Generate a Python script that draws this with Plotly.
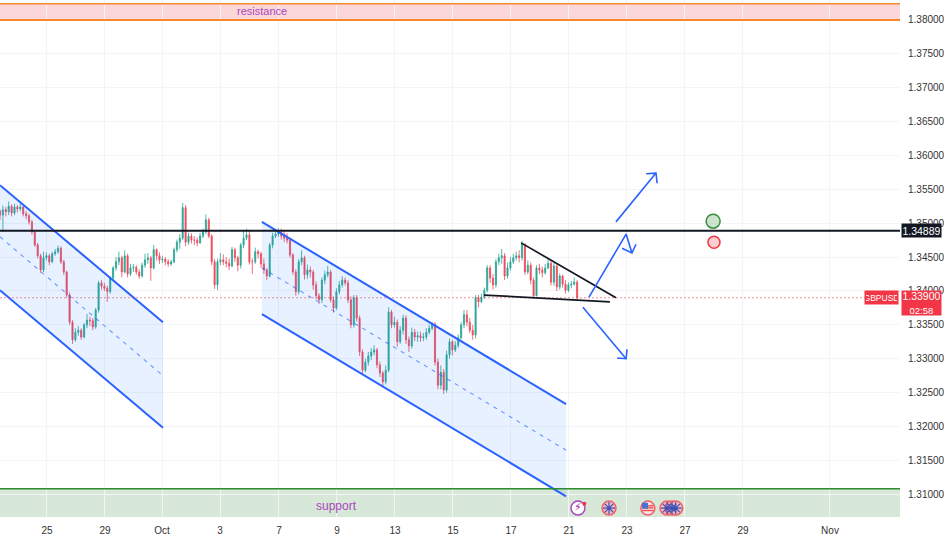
import plotly.graph_objects as go

# ---- candle data (one bar = a tenth of a session on the time axis) ----
first_open = 1.3518
closes = [
 1.3512,1.3520,1.3517,1.3525,1.3515,1.3524,1.3521,1.3524,1.3514,1.3511,
 1.3502,1.3487,1.3468,1.3452,1.3431,1.3449,1.3452,1.3443,1.3455,1.3458,
 1.3463,1.3443,1.3428,1.3394,1.3354,1.3328,1.3339,1.3342,1.3332,1.3350,
 1.3357,1.3356,1.3347,1.3372,1.3412,1.3407,1.3404,1.3399,1.3419,1.3434,
 1.3443,1.3449,1.3428,1.3452,1.3425,1.3434,1.3435,1.3428,1.3422,1.3438,
 1.3446,1.3449,1.3434,1.3461,1.3452,1.3446,1.3447,1.3443,1.3440,1.3443,
 1.3461,1.3472,1.3478,1.3523,1.3472,1.3481,1.3475,1.3475,1.3471,1.3481,
 1.3487,1.3505,1.3481,1.3443,1.3409,1.3443,1.3446,1.3443,1.3441,1.3437,
 1.3461,1.3449,1.3438,1.3468,1.3478,1.3483,1.3443,1.3443,1.3458,1.3455,
 1.3440,1.3431,1.3422,1.3468,1.3481,1.3484,1.3486,1.3481,1.3478,1.3475,
 1.3453,1.3428,1.3399,1.3443,1.3449,1.3424,1.3431,1.3428,1.3409,1.3393,
 1.3387,1.3416,1.3424,1.3428,1.3387,1.3375,1.3399,1.3409,1.3416,1.3412,
 1.3387,1.3350,1.3390,1.3360,1.3310,1.3283,1.3295,1.3304,1.3310,1.3313,
 1.3291,1.3279,1.3266,1.3283,1.3369,1.3350,1.3354,1.3325,1.3342,1.3360,
 1.3328,1.3319,1.3339,1.3332,1.3334,1.3331,1.3332,1.3339,1.3345,1.3351,
 1.3295,1.3261,1.3280,1.3254,1.3306,1.3325,1.3313,1.3320,1.3331,1.3350,
 1.3365,1.3354,1.3342,1.3335,1.3390,1.3384,1.3391,1.3401,1.3434,1.3419,
 1.3409,1.3443,1.3449,1.3452,1.3422,1.3434,1.3443,1.3449,1.3452,1.3449,
 1.3469,1.3428,1.3438,1.3416,1.3393,1.3434,1.3431,1.3427,1.3434,1.3441,
 1.3413,1.3437,1.3406,1.3422,1.3410,1.3401,1.3409,1.3410,1.3413,1.3390,
]
highs = [
 1.3520,1.3526,1.3524,1.3532,1.3528,1.3529,1.3527,1.3529,1.3526,1.3518,
 1.3514,1.3505,1.3490,1.3471,1.3455,1.3458,1.3457,1.3455,1.3458,1.3462,
 1.3467,1.3466,1.3446,1.3430,1.3398,1.3357,1.3345,1.3348,1.3345,1.3353,
 1.3366,1.3362,1.3360,1.3375,1.3415,1.3416,1.3412,1.3408,1.3422,1.3437,
 1.3450,1.3458,1.3452,1.3460,1.3455,1.3440,1.3440,1.3438,1.3432,1.3442,
 1.3455,1.3456,1.3452,1.3468,1.3463,1.3457,1.3452,1.3450,1.3447,1.3446,
 1.3464,1.3476,1.3484,1.3530,1.3527,1.3486,1.3485,1.3481,1.3479,1.3486,
 1.3492,1.3513,1.3508,1.3484,1.3447,1.3448,1.3456,1.3454,1.3450,1.3448,
 1.3465,1.3464,1.3452,1.3471,1.3489,1.3492,1.3490,1.3448,1.3464,1.3461,
 1.3458,1.3448,1.3434,1.3471,1.3486,1.3490,1.3493,1.3492,1.3489,1.3485,
 1.3478,1.3456,1.3432,1.3447,1.3460,1.3452,1.3439,1.3436,1.3431,1.3414,
 1.3397,1.3420,1.3430,1.3437,1.3431,1.3392,1.3404,1.3415,1.3422,1.3420,
 1.3416,1.3392,1.3394,1.3394,1.3364,1.3314,1.3300,1.3310,1.3316,1.3320,
 1.3316,1.3296,1.3282,1.3290,1.3376,1.3372,1.3362,1.3358,1.3348,1.3365,
 1.3364,1.3333,1.3346,1.3344,1.3340,1.3340,1.3338,1.3345,1.3350,1.3354,
 1.3354,1.3300,1.3290,1.3285,1.3312,1.3330,1.3328,1.3326,1.3336,1.3354,
 1.3372,1.3372,1.3360,1.3350,1.3394,1.3394,1.3396,1.3405,1.3438,1.3438,
 1.3425,1.3447,1.3455,1.3462,1.3456,1.3442,1.3450,1.3455,1.3458,1.3460,
 1.3474,1.3470,1.3445,1.3442,1.3420,1.3438,1.3440,1.3436,1.3440,1.3447,
 1.3446,1.3442,1.3440,1.3426,1.3424,1.3416,1.3413,1.3415,1.3420,1.3416,
]
lows = [
 1.3505,1.3487,1.3510,1.3512,1.3510,1.3512,1.3516,1.3518,1.3510,1.3506,
 1.3498,1.3483,1.3465,1.3448,1.3427,1.3428,1.3445,1.3438,1.3441,1.3452,
 1.3455,1.3440,1.3424,1.3390,1.3350,1.3322,1.3325,1.3334,1.3328,1.3330,
 1.3345,1.3348,1.3342,1.3344,1.3368,1.3402,1.3400,1.3384,1.3396,1.3416,
 1.3430,1.3438,1.3420,1.3426,1.3420,1.3422,1.3428,1.3424,1.3418,1.3420,
 1.3434,1.3440,1.3415,1.3432,1.3445,1.3440,1.3441,1.3438,1.3436,1.3437,
 1.3441,1.3457,1.3462,1.3475,1.3466,1.3468,1.3470,1.3468,1.3466,1.3470,
 1.3478,1.3484,1.3478,1.3438,1.3403,1.3401,1.3438,1.3438,1.3435,1.3431,
 1.3435,1.3443,1.3429,1.3433,1.3463,1.3475,1.3439,1.3425,1.3440,1.3448,
 1.3434,1.3425,1.3416,1.3420,1.3463,1.3478,1.3480,1.3476,1.3472,1.3470,
 1.3449,1.3424,1.3393,1.3395,1.3438,1.3417,1.3418,1.3420,1.3402,1.3388,
 1.3381,1.3382,1.3410,1.3420,1.3383,1.3368,1.3372,1.3395,1.3405,1.3408,
 1.3382,1.3345,1.3346,1.3355,1.3304,1.3278,1.3280,1.3290,1.3298,1.3305,
 1.3286,1.3273,1.3258,1.3262,1.3280,1.3345,1.3346,1.3318,1.3322,1.3336,
 1.3322,1.3310,1.3315,1.3326,1.3325,1.3325,1.3326,1.3328,1.3336,1.3342,
 1.3290,1.3255,1.3255,1.3248,1.3250,1.3300,1.3305,1.3310,1.3316,1.3328,
 1.3345,1.3348,1.3338,1.3328,1.3330,1.3376,1.3382,1.3388,1.3398,1.3412,
 1.3402,1.3405,1.3438,1.3440,1.3416,1.3418,1.3430,1.3440,1.3445,1.3442,
 1.3445,1.3424,1.3425,1.3410,1.3391,1.3392,1.3425,1.3420,1.3424,1.3432,
 1.3408,1.3408,1.3400,1.3402,1.3405,1.3396,1.3398,1.3404,1.3408,1.3387,
]
opens = [first_open] + closes[:-1]
bars = list(range(len(closes)))

# ---- axes ----
x_range = [-0.0, 310.34]
y_range = [1.30664, 1.38295]
x_tick_pos = [16.2, 36.2, 55.9, 75.9, 96.2, 116.2, 136.2, 156.2, 176.2, 196.2, 216.2, 236.2, 256.2, 286.2]
x_tick_text = ["25", "29", "Oct", "3", "7", "9", "13", "15", "17", "21", "23", "27", "29", "Nov"]
y_ticks = [1.31, 1.315, 1.32, 1.325, 1.33, 1.335, 1.34, 1.345, 1.35, 1.355, 1.36, 1.365, 1.37, 1.375, 1.38]
y_tick_text = ["%.5f" % v for v in y_ticks]

# ---- levels and zones ----
last_price = 1.33900
key_level = 1.34889
resistance_zone = [1.3800, 1.3824]
support_zone = [y_range[0], 1.3108]

# ---- drawings (bar, price) ----
chan1_x = [0.0, 56.2]
chan1_upper = [1.3556, 1.3354]
chan1_mid = [1.3480, 1.3275]
chan1_lower = [1.3401, 1.3198]
chan2_x = [90.3, 195.2]
chan2_upper = [1.3502, 1.3233]
chan2_mid = [1.3434, 1.3165]
chan2_lower = [1.3366, 1.3097]
tri_top_x, tri_top_y = [179.7, 212.4], [1.3471, 1.3390]
tri_low_x, tri_low_y = [166.9, 210.3], [1.3394, 1.3384]
arrow_up_x = [212.4, 226.2, None, 222.8, 226.2, 226.6]
arrow_up_y = [1.3502, 1.3574, None, 1.3573, 1.3574, 1.3559]
arrow_mid_x = [203.1, 215.9, 217.9, None, 214.5, 217.9, 219.3]
arrow_mid_y = [1.3391, 1.3484, 1.3456, None, 1.3463, 1.3456, 1.3469]
arrow_dn_x = [201.0, 215.9, None, 212.8, 215.9, 216.2]
arrow_dn_y = [1.3376, 1.3300, None, 1.3301, 1.3300, 1.3314]
green_dot = (245.9, 1.3503)
red_dot = (246.2, 1.3472)
events_y = 1.30795
event_bolt_x = 199.3
event_uk_x = [210.0, 230.0, 231.7, 233.0]
event_us_x = [223.4]
us_stripe_y = [1.3076, 1.3080, 1.3083]
us_canton = (222.4, 1.3083)
bolt_dot = (201.5, 1.3086)

BLUE = "#2962FF"
FONT = "Liberation Sans"

fig = go.Figure()

fig.add_trace(go.Candlestick(
    x=bars, open=opens, high=highs, low=lows, close=closes,
    increasing=dict(line=dict(color="#2aa596", width=0.8), fillcolor="#2aa596"),
    decreasing=dict(line=dict(color="#ef4a5a", width=0.8), fillcolor="#ef4a5a"),
    whiskerwidth=0, hoverinfo="skip", showlegend=False,
))


def line(x, y, color=BLUE, width=2.0, dash="solid"):
    fig.add_trace(go.Scatter(x=x, y=y, mode="lines", hoverinfo="skip", showlegend=False,
                             line=dict(color=color, width=width, dash=dash)))


def dots(x, y, **marker):
    fig.add_trace(go.Scatter(x=x, y=y, mode="markers", hoverinfo="skip", showlegend=False, marker=marker))


# channel fills
for cx, up, lo in [(chan1_x, chan1_upper, chan1_lower), (chan2_x, chan2_upper, chan2_lower)]:
    fig.add_trace(go.Scatter(x=cx + cx[::-1], y=up + lo[::-1], mode="lines", fill="toself",
                             fillcolor="rgba(33,120,255,0.105)", line=dict(width=0),
                             hoverinfo="skip", showlegend=False))
    line(cx, up)
    line(cx, lo)
line(chan1_x, chan1_mid, "rgba(41,98,255,0.65)", 1.1, "4px,5px")
line(chan2_x, chan2_mid, "rgba(41,98,255,0.65)", 1.1, "4px,5px")

# price lines
line([x_range[0], 298.6], [last_price, last_price], "rgba(242,54,69,0.55)", 1, "2px,2px")
line([x_range[0], x_range[1]], [key_level, key_level], "#131722", 2)
line(tri_top_x, tri_top_y, "#131722", 1.7)
line(tri_low_x, tri_low_y, "#131722", 1.7)
line(arrow_up_x, arrow_up_y, BLUE, 1.6)
line(arrow_mid_x, arrow_mid_y, BLUE, 1.6)
line(arrow_dn_x, arrow_dn_y, BLUE, 1.6)

# target dots
dots([green_dot[0]], [green_dot[1]], size=14, color="rgba(56,142,60,0.25)", line=dict(color="#388E3C", width=1.5))
dots([red_dot[0]], [red_dot[1]], size=12, color="rgba(242,54,69,0.25)", line=dict(color="#F23645", width=1.5))

# event icons
fig.add_trace(go.Scatter(x=[event_bolt_x], y=[events_y], mode="markers+text", text=["⚡"], textposition="middle center",
                         textfont=dict(size=11, color="#9C27B0", family="DejaVu Sans"), hoverinfo="skip", showlegend=False,
                         marker=dict(size=14, color="#ffffff", line=dict(color="#AB47BC", width=1.5))))
dots([bolt_dot[0]], [bolt_dot[1]], size=4, color="#F23645")
dots(event_uk_x, [events_y] * 4, size=14, color="#F4B8BF", line=dict(color="#F0616D", width=1.5))
dots(event_uk_x, [events_y] * 4, size=10, symbol="asterisk-open", color="#3F51B5", line=dict(color="#4A5BB8", width=1.2))
dots(event_us_x, [events_y], size=14, color="#FBE3E5", line=dict(color="#F0616D", width=1.5))
dots(event_us_x * 3, us_stripe_y, size=8, symbol="line-ew-open", color="#EF5350", line=dict(color="#EF5350", width=1.4))
dots([us_canton[0]], [us_canton[1]], size=6, symbol="square", color="#4A6FD0")

shapes = [
    dict(type="rect", xref="paper", x0=0, x1=1, yref="y", y0=resistance_zone[0], y1=resistance_zone[1],
         fillcolor="rgba(242,54,69,0.2)", line=dict(width=0), layer="below"),
    dict(type="line", xref="paper", x0=0, x1=1, yref="y", y0=resistance_zone[0], y1=resistance_zone[0],
         line=dict(color="#F5892B", width=2)),
    dict(type="line", xref="paper", x0=0, x1=1, yref="y", y0=resistance_zone[1], y1=resistance_zone[1],
         line=dict(color="#F5892B", width=1.5)),
    dict(type="rect", xref="paper", x0=0, x1=1, yref="y", y0=support_zone[0], y1=support_zone[1],
         fillcolor="rgba(56,142,60,0.2)", line=dict(width=0), layer="below"),
    dict(type="line", xref="paper", x0=0, x1=1, yref="y", y0=support_zone[1], y1=support_zone[1],
         line=dict(color="#2E8B2E", width=1.5)),
]

annotations = [
    dict(x=90.3, y=1.3813, xref="x", yref="y", text="resistance", showarrow=False,
         font=dict(family=FONT, size=11, color="#AB47BC")),
    dict(x=116, y=1.3082, xref="x", yref="y", text="support", showarrow=False,
         font=dict(family=FONT, size=12, color="#AB47BC")),
    dict(x=1, xshift=1, xanchor="left", y=key_level, xref="paper", yref="y", text="1.34889", showarrow=False,
         bgcolor="#131722", width=37, height=11, borderpad=1, font=dict(family=FONT, size=10.5, color="#ffffff")),
    dict(x=1, xshift=1, xanchor="left", y=last_price, yshift=-5.5, xref="paper", yref="y",
         text="1.33900<br><span style='font-size:9.5px'>02:58</span>", showarrow=False,
         bgcolor="#F23645", width=37, height=22, borderpad=1, font=dict(family=FONT, size=10.5, color="#ffffff")),
    dict(x=1, xshift=-1, xanchor="right", y=last_price, xref="paper", yref="y", text="GBPUSD", showarrow=False,
         bgcolor="#F23645", width=31, height=11, borderpad=1, font=dict(family=FONT, size=8.5, color="#ffffff")),
]

fig.update_layout(
    width=950, height=542, margin=dict(l=0, r=50, t=0, b=25),
    paper_bgcolor="#ffffff", plot_bgcolor="#ffffff", showlegend=False, boxgap=0.45,
    shapes=shapes, annotations=annotations,
    font=dict(family=FONT, size=10, color="#131722"),
    xaxis=dict(range=x_range, tickmode="array", tickvals=x_tick_pos, ticktext=x_tick_text,
               rangeslider=dict(visible=False), showgrid=True, gridcolor="#F3F4F7", gridwidth=1,
               zeroline=False, showline=False, ticks="outside", ticklen=4, tickcolor="rgba(0,0,0,0)",
               tickfont=dict(family=FONT, size=10, color="#333333")),
    yaxis=dict(range=y_range, side="right", tickmode="array", tickvals=y_ticks, ticktext=y_tick_text,
               showgrid=True, gridcolor="#F3F4F7", gridwidth=1, zeroline=False, showline=False,
               ticks="outside", ticklen=5, tickcolor="rgba(0,0,0,0)",
               tickfont=dict(family=FONT, size=10, color="#333333")),
)

fig.write_html("out.html", config={"displayModeBar": False},
               post_script="document.body.style.margin='0';")
